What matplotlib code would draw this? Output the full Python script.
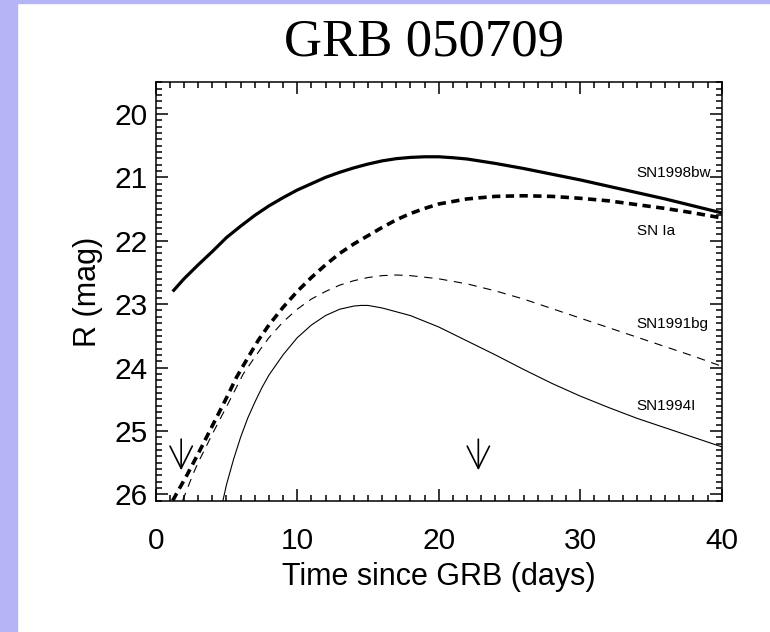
import matplotlib
matplotlib.use("Agg")
import matplotlib.pyplot as plt
from matplotlib.patches import Rectangle
from matplotlib.ticker import MultipleLocator

# light curves (days since GRB, R mag)
bw_t = [1.2, 2, 3, 4, 5, 6, 7, 8, 9, 10, 11, 12, 13, 14, 15, 16, 17, 18, 19, 20, 21, 22, 24, 26, 28,
        30, 32, 34, 36, 38, 40]
bw_r = [22.8, 22.6, 22.38, 22.17, 21.95, 21.77, 21.6, 21.45, 21.32, 21.2, 21.1, 21.0, 20.92, 20.85,
        20.79, 20.74, 20.705, 20.685, 20.675, 20.675, 20.69, 20.71, 20.78, 20.86, 20.95, 21.04, 21.14,
        21.24, 21.34, 21.45, 21.56]

ia_t = [1.2, 1.67, 2.2, 3, 4, 5, 5.72, 6.5, 7.25, 8, 9, 10, 11, 12, 13, 14, 15, 16, 17, 18, 19, 20,
        22, 24, 26, 28, 30, 32, 34, 36, 38, 40]
ia_r = [26.1, 25.91, 25.7, 25.36, 24.92, 24.48, 24.15, 23.85, 23.57, 23.33, 23.05, 22.8, 22.58, 22.38,
        22.2, 22.05, 21.92, 21.79, 21.67, 21.57, 21.49, 21.42, 21.34, 21.3, 21.29, 21.3, 21.33, 21.37,
        21.43, 21.49, 21.56, 21.64]

bg_t = [1.9, 2.66, 3, 4, 5, 6.19, 7.37, 8, 9, 10, 11, 12, 13, 14, 15, 16, 17, 18, 20, 22, 24, 26,
        28, 30, 32, 34, 36, 38, 40]
bg_r = [26.1, 25.67, 25.5, 25.05, 24.62, 24.1, 23.72, 23.53, 23.28, 23.08, 22.92, 22.8, 22.7, 22.63,
        22.58, 22.55, 22.54, 22.55, 22.6, 22.68, 22.79, 22.92, 23.07, 23.22, 23.37, 23.52, 23.67, 23.82,
        23.98]

i94_t = [4.75, 5, 5.5, 6, 6.5, 7, 7.5, 8, 9, 10, 11, 12, 13, 14, 14.5, 15, 16, 18, 20, 22, 24, 26,
         28, 30, 32, 34, 36, 38, 40]
i94_r = [26.1, 25.85, 25.45, 25.1, 24.8, 24.55, 24.32, 24.12, 23.8, 23.53, 23.33, 23.18, 23.08, 23.03,
         23.02, 23.02, 23.06, 23.18, 23.36, 23.58, 23.8, 24.03, 24.25, 24.45, 24.63, 24.8, 24.95, 25.1,
         25.25]

# upper limits (arrows)
lim_t = [1.8, 22.8]
lim_top = [25.13, 25.13]
lim_tip = [25.62, 25.62]

labels = ["SN1998bw", "SN Ia", "SN1991bg", "SN1994I"]
label_r = [20.93, 21.84, 23.31, 24.6]
label_t = 34.0

plt.rcParams['font.family'] = ['Liberation Sans', 'DejaVu Sans']

fig = plt.figure(figsize=(7.7, 6.32), dpi=100)
fig.patch.set_facecolor("white")
band = "#b4b4f6"
fig.patches.append(Rectangle((0, 0), 17 / 770, 1, transform=fig.transFigure, color=band, zorder=0))
fig.patches.append(Rectangle((0, 1 - 3 / 632), 1, 3 / 632, transform=fig.transFigure, color=band, zorder=0))

ax = fig.add_axes([0.2022, 0.2078, 0.7351, 0.662])

ax.plot(bw_t, bw_r, color="black", lw=2.3, solid_capstyle="butt")
ax.plot(ia_t, ia_r, color="black", lw=2.6, dashes=(2.3, 1.5))
ax.plot(bg_t, bg_r, color="black", lw=0.8, dashes=(7.5, 6))
ax.plot(i94_t, i94_r, color="black", lw=0.8)

for t, a, b in zip(lim_t, lim_top, lim_tip):
    ax.annotate("", xy=(t, b), xytext=(t, a),
                arrowprops=dict(arrowstyle="->,head_length=0.8,head_width=0.4",
                                mutation_scale=20, lw=1.2, color="black",
                                shrinkA=0, shrinkB=0))

for name, r in zip(labels, label_r):
    ax.text(label_t, r, name, fontsize=11, ha="left", va="center")

ax.set_xlim(0, 40)
ax.set_ylim(26.1, 19.5)
ax.xaxis.set_major_locator(MultipleLocator(10))
ax.xaxis.set_minor_locator(MultipleLocator(1))
ax.yaxis.set_major_locator(MultipleLocator(1))
ax.yaxis.set_minor_locator(MultipleLocator(0.1))
ax.tick_params(which="both", direction="in", top=True, right=True, width=1.1)
ax.tick_params(which="major", length=8.5, labelsize=21.5)
ax.tick_params(which="minor", length=4.3)
ax.tick_params(axis="x", pad=19)
ax.tick_params(axis="y", pad=6)
for s in ax.spines.values():
    s.set_linewidth(1.1)

ax.set_xlabel("Time since GRB (days)", fontsize=22, labelpad=5)
ax.set_ylabel("R (mag)", fontsize=22, labelpad=8)

fig.text(0.551, 0.932, "GRB 050709", fontsize=38, ha="center", va="center",
         family=["Liberation Serif", "DejaVu Serif"])

fig.savefig("out.png", dpi=100)
